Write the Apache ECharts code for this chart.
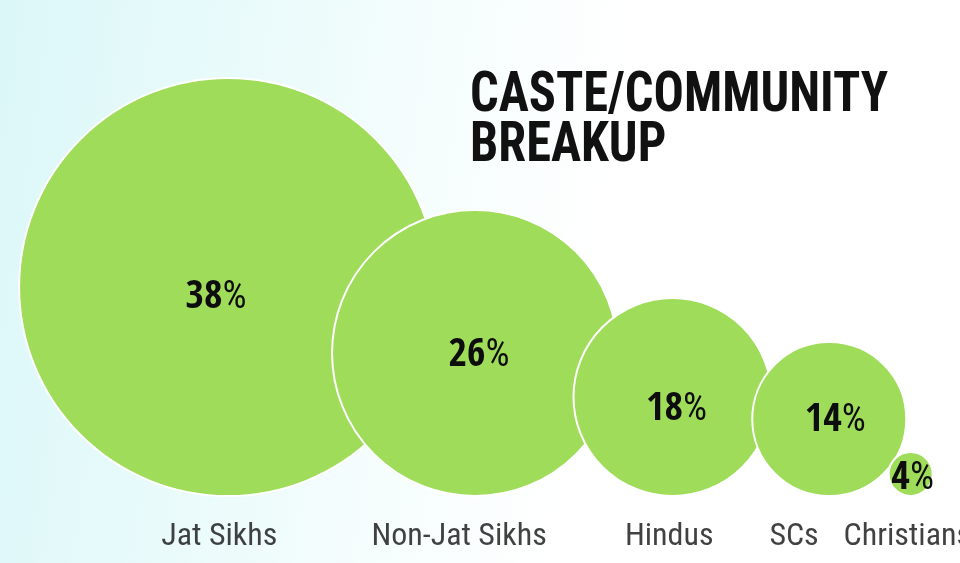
<!DOCTYPE html>
<html>
<head>
<meta charset="utf-8">
<style>
html,body{margin:0;padding:0;}
#chart{width:960px;height:563px;}
</style>
<script src="https://cdn.jsdelivr.net/npm/echarts@6/dist/echarts.min.js"></script>
</head>
<body>
<div id="chart"></div>
<script>
// Data
var categories = ['Jat Sikhs', 'Non-Jat Sikhs', 'Hindus', 'SCs', 'Christians'];
var shares = [38, 26, 18, 14, 4];              // percent
var bubbleX = [38.2, 83.1, 119, 147.5, 162.3]; // bubble centres along the x value axis (percentage-point units)
var titleLines = ['CASTE/COMMUNITY', 'BREAKUP'];

// Layout (px per percentage point of radius)
var PX = 5.5;
var gridLeft = 18, gridBottomPx = 496;
var xMax = 171, yMax = 80;
var labelNudge = [-1.6, -2.9, -0.6, -6.4, -0.6]; // name label shift (axis units)
var pctNudge = [[-12, 11], [4, 3], [4, 13], [6, 2], [2, 5]];

var green = '#9EDC59';
var numFont = '"Open Sans Condensed", "Roboto Condensed", sans-serif';
var condFont = '"Roboto Condensed", sans-serif';

var bubbleData = shares.map(function (v, i) {
  return {
    value: [bubbleX[i], v, v],
    name: categories[i],
    label: { offset: pctNudge[i] }
  };
});
var nameData = shares.map(function (v, i) {
  return { value: [bubbleX[i] + labelNudge[i], -7.5], name: categories[i] };
});

var chart = echarts.init(document.getElementById('chart'), null, { renderer: 'canvas' });
chart.setOption({
  animation: false,
  backgroundColor: {
    type: 'linear', x: 0, y: 0, x2: 1, y2: 0.25,
    colorStops: [
      { offset: 0, color: '#dbf7f8' },
      { offset: 0.45, color: '#f5fdfd' },
      { offset: 0.65, color: '#ffffff' },
      { offset: 1, color: '#ffffff' }
    ]
  },
  graphic: [
    {
      type: 'text', left: 470, top: 69, scaleX: 0.9, z: 10,
      style: {
        text: titleLines.join('\n'),
        font: 'bold 56px ' + condFont,
        lineHeight: 50,
        fill: '#111111'
      }
    }
  ],
  grid: {
    left: gridLeft,
    width: xMax * PX,
    top: gridBottomPx - yMax * PX,
    height: yMax * PX
  },
  xAxis: { type: 'value', min: 0, max: xMax, show: false },
  yAxis: { type: 'value', min: 0, max: yMax, show: false },
  series: [
    {
      type: 'scatter',
      clip: false,
      data: bubbleData,
      symbolSize: function (val) { return val[2] * 2 * PX; },
      itemStyle: { color: green, borderColor: '#ffffff', borderWidth: 2, opacity: 1 },
      label: {
        show: true,
        position: 'inside',
        formatter: function (p) { return '{n|' + p.value[2] + '}{p|%}'; },
        rich: {
          n: { fontFamily: numFont, fontWeight: 'bold', fontSize: 40, color: '#0d0d0d' },
          p: { fontFamily: condFont, fontWeight: 'normal', fontSize: 38, color: '#0d0d0d' }
        }
      },
      emphasis: { disabled: true },
      z: 2
    },
    {
      type: 'scatter',
      clip: false,
      data: nameData,
      symbolSize: 1,
      itemStyle: { color: 'rgba(0,0,0,0)' },
      label: {
        show: true,
        position: 'inside',
        formatter: '{b}',
        fontFamily: condFont,
        fontWeight: 'normal',
        fontSize: 32,
        color: '#111111'
      },
      emphasis: { disabled: true },
      z: 3
    }
  ]
});
</script>
</body>
</html>
